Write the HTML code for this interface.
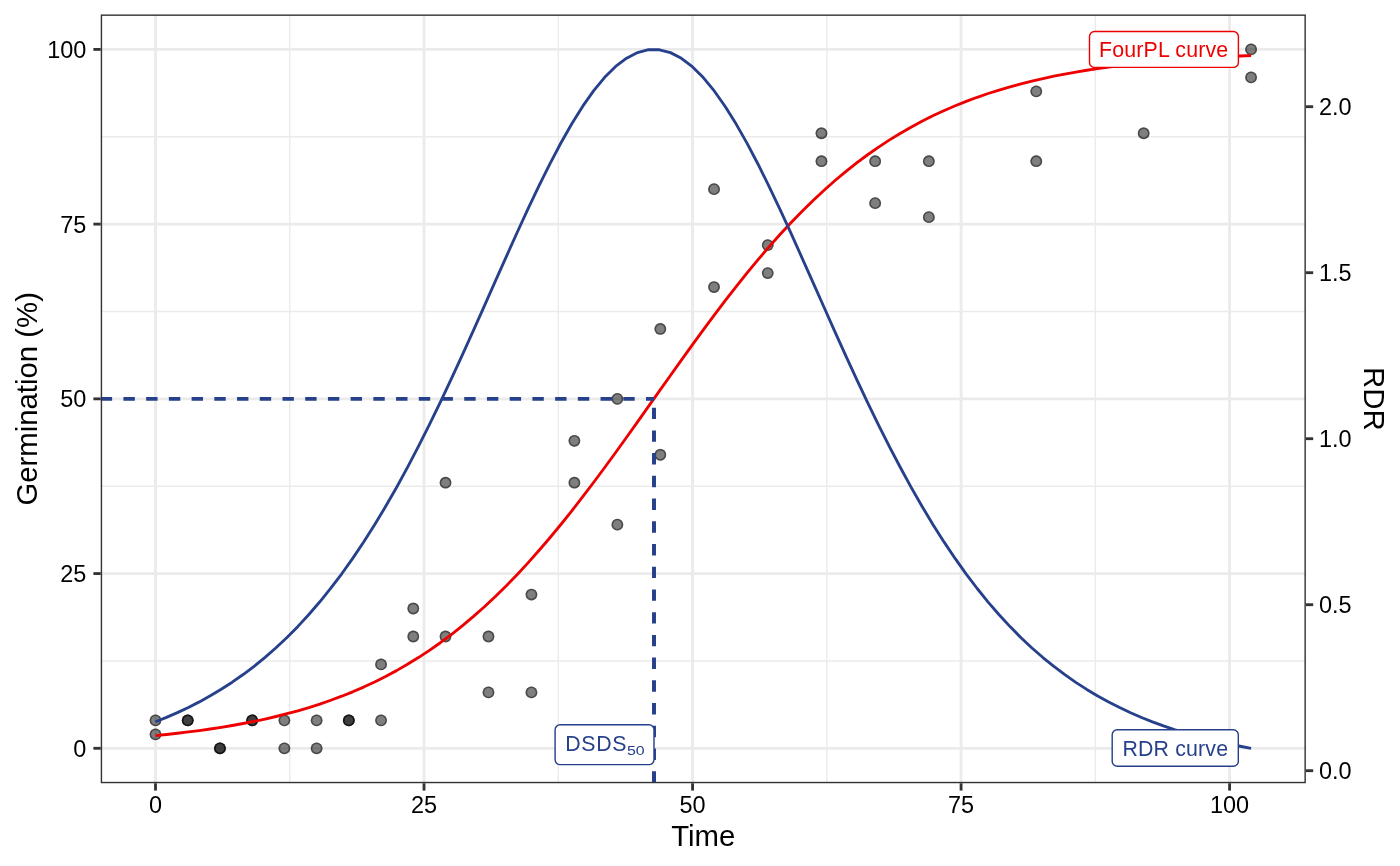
<!DOCTYPE html>
<html><head><meta charset="utf-8"><title>Germination curve</title>
<style>html,body{margin:0;padding:0;background:#fff;}body{width:1400px;height:866px;overflow:hidden;font-family:"Liberation Sans",sans-serif;}</style></head>
<body>
<svg width="1400" height="866" viewBox="0 0 1400 866" style="display:block;will-change:transform">
<rect width="1400" height="866" fill="#fff"/>
<defs><clipPath id="p"><rect x="100.72" y="14.45" width="1205.14" height="768.79"/></clipPath></defs>
<g clip-path="url(#p)">
<g stroke="#ebebeb" stroke-width="1.42">
<line x1="100.72" x2="1305.86" y1="660.94" y2="660.94"/>
<line y1="14.45" y2="783.25" x1="289.76" x2="289.76"/>
<line x1="100.72" x2="1305.86" y1="486.21" y2="486.21"/>
<line y1="14.45" y2="783.25" x1="558.29" x2="558.29"/>
<line x1="100.72" x2="1305.86" y1="311.49" y2="311.49"/>
<line y1="14.45" y2="783.25" x1="826.81" x2="826.81"/>
<line x1="100.72" x2="1305.86" y1="136.76" y2="136.76"/>
<line y1="14.45" y2="783.25" x1="1095.34" x2="1095.34"/>
</g>
<g stroke="#ebebeb" stroke-width="2.85">
<line x1="100.72" x2="1305.86" y1="748.30" y2="748.30"/>
<line y1="14.45" y2="783.25" x1="155.50" x2="155.50"/>
<line x1="100.72" x2="1305.86" y1="573.57" y2="573.57"/>
<line y1="14.45" y2="783.25" x1="424.02" x2="424.02"/>
<line x1="100.72" x2="1305.86" y1="398.85" y2="398.85"/>
<line y1="14.45" y2="783.25" x1="692.55" x2="692.55"/>
<line x1="100.72" x2="1305.86" y1="224.12" y2="224.12"/>
<line y1="14.45" y2="783.25" x1="961.07" x2="961.07"/>
<line x1="100.72" x2="1305.86" y1="49.40" y2="49.40"/>
<line y1="14.45" y2="783.25" x1="1229.60" x2="1229.60"/>
</g>
<g>
<circle cx="155.50" cy="720.34" r="5.9" fill="#000" fill-opacity="0.5"/><circle cx="155.50" cy="720.34" r="5.1" fill="none" stroke="#000" stroke-opacity="0.42" stroke-width="1.55"/>
<circle cx="155.50" cy="734.32" r="5.9" fill="#000" fill-opacity="0.5"/><circle cx="155.50" cy="734.32" r="5.1" fill="none" stroke="#000" stroke-opacity="0.42" stroke-width="1.55"/>
<circle cx="187.72" cy="720.34" r="5.9" fill="#000" fill-opacity="0.5"/><circle cx="187.72" cy="720.34" r="5.1" fill="none" stroke="#000" stroke-opacity="0.42" stroke-width="1.55"/>
<circle cx="187.72" cy="720.34" r="5.9" fill="#000" fill-opacity="0.5"/><circle cx="187.72" cy="720.34" r="5.1" fill="none" stroke="#000" stroke-opacity="0.42" stroke-width="1.55"/>
<circle cx="219.95" cy="748.30" r="5.9" fill="#000" fill-opacity="0.5"/><circle cx="219.95" cy="748.30" r="5.1" fill="none" stroke="#000" stroke-opacity="0.42" stroke-width="1.55"/>
<circle cx="219.95" cy="748.30" r="5.9" fill="#000" fill-opacity="0.5"/><circle cx="219.95" cy="748.30" r="5.1" fill="none" stroke="#000" stroke-opacity="0.42" stroke-width="1.55"/>
<circle cx="252.17" cy="720.34" r="5.9" fill="#000" fill-opacity="0.5"/><circle cx="252.17" cy="720.34" r="5.1" fill="none" stroke="#000" stroke-opacity="0.42" stroke-width="1.55"/>
<circle cx="252.17" cy="720.34" r="5.9" fill="#000" fill-opacity="0.5"/><circle cx="252.17" cy="720.34" r="5.1" fill="none" stroke="#000" stroke-opacity="0.42" stroke-width="1.55"/>
<circle cx="284.39" cy="720.34" r="5.9" fill="#000" fill-opacity="0.5"/><circle cx="284.39" cy="720.34" r="5.1" fill="none" stroke="#000" stroke-opacity="0.42" stroke-width="1.55"/>
<circle cx="284.39" cy="748.30" r="5.9" fill="#000" fill-opacity="0.5"/><circle cx="284.39" cy="748.30" r="5.1" fill="none" stroke="#000" stroke-opacity="0.42" stroke-width="1.55"/>
<circle cx="316.62" cy="720.34" r="5.9" fill="#000" fill-opacity="0.5"/><circle cx="316.62" cy="720.34" r="5.1" fill="none" stroke="#000" stroke-opacity="0.42" stroke-width="1.55"/>
<circle cx="316.62" cy="748.30" r="5.9" fill="#000" fill-opacity="0.5"/><circle cx="316.62" cy="748.30" r="5.1" fill="none" stroke="#000" stroke-opacity="0.42" stroke-width="1.55"/>
<circle cx="348.84" cy="720.34" r="5.9" fill="#000" fill-opacity="0.5"/><circle cx="348.84" cy="720.34" r="5.1" fill="none" stroke="#000" stroke-opacity="0.42" stroke-width="1.55"/>
<circle cx="348.84" cy="720.34" r="5.9" fill="#000" fill-opacity="0.5"/><circle cx="348.84" cy="720.34" r="5.1" fill="none" stroke="#000" stroke-opacity="0.42" stroke-width="1.55"/>
<circle cx="381.06" cy="664.43" r="5.9" fill="#000" fill-opacity="0.5"/><circle cx="381.06" cy="664.43" r="5.1" fill="none" stroke="#000" stroke-opacity="0.42" stroke-width="1.55"/>
<circle cx="381.06" cy="720.34" r="5.9" fill="#000" fill-opacity="0.5"/><circle cx="381.06" cy="720.34" r="5.1" fill="none" stroke="#000" stroke-opacity="0.42" stroke-width="1.55"/>
<circle cx="413.28" cy="608.52" r="5.9" fill="#000" fill-opacity="0.5"/><circle cx="413.28" cy="608.52" r="5.1" fill="none" stroke="#000" stroke-opacity="0.42" stroke-width="1.55"/>
<circle cx="413.28" cy="636.48" r="5.9" fill="#000" fill-opacity="0.5"/><circle cx="413.28" cy="636.48" r="5.1" fill="none" stroke="#000" stroke-opacity="0.42" stroke-width="1.55"/>
<circle cx="445.51" cy="482.72" r="5.9" fill="#000" fill-opacity="0.5"/><circle cx="445.51" cy="482.72" r="5.1" fill="none" stroke="#000" stroke-opacity="0.42" stroke-width="1.55"/>
<circle cx="445.51" cy="636.48" r="5.9" fill="#000" fill-opacity="0.5"/><circle cx="445.51" cy="636.48" r="5.1" fill="none" stroke="#000" stroke-opacity="0.42" stroke-width="1.55"/>
<circle cx="488.47" cy="636.48" r="5.9" fill="#000" fill-opacity="0.5"/><circle cx="488.47" cy="636.48" r="5.1" fill="none" stroke="#000" stroke-opacity="0.42" stroke-width="1.55"/>
<circle cx="488.47" cy="692.39" r="5.9" fill="#000" fill-opacity="0.5"/><circle cx="488.47" cy="692.39" r="5.1" fill="none" stroke="#000" stroke-opacity="0.42" stroke-width="1.55"/>
<circle cx="531.43" cy="594.54" r="5.9" fill="#000" fill-opacity="0.5"/><circle cx="531.43" cy="594.54" r="5.1" fill="none" stroke="#000" stroke-opacity="0.42" stroke-width="1.55"/>
<circle cx="531.43" cy="692.39" r="5.9" fill="#000" fill-opacity="0.5"/><circle cx="531.43" cy="692.39" r="5.1" fill="none" stroke="#000" stroke-opacity="0.42" stroke-width="1.55"/>
<circle cx="574.40" cy="440.78" r="5.9" fill="#000" fill-opacity="0.5"/><circle cx="574.40" cy="440.78" r="5.1" fill="none" stroke="#000" stroke-opacity="0.42" stroke-width="1.55"/>
<circle cx="574.40" cy="482.72" r="5.9" fill="#000" fill-opacity="0.5"/><circle cx="574.40" cy="482.72" r="5.1" fill="none" stroke="#000" stroke-opacity="0.42" stroke-width="1.55"/>
<circle cx="617.36" cy="398.85" r="5.9" fill="#000" fill-opacity="0.5"/><circle cx="617.36" cy="398.85" r="5.1" fill="none" stroke="#000" stroke-opacity="0.42" stroke-width="1.55"/>
<circle cx="617.36" cy="524.65" r="5.9" fill="#000" fill-opacity="0.5"/><circle cx="617.36" cy="524.65" r="5.1" fill="none" stroke="#000" stroke-opacity="0.42" stroke-width="1.55"/>
<circle cx="660.33" cy="328.96" r="5.9" fill="#000" fill-opacity="0.5"/><circle cx="660.33" cy="328.96" r="5.1" fill="none" stroke="#000" stroke-opacity="0.42" stroke-width="1.55"/>
<circle cx="660.33" cy="454.76" r="5.9" fill="#000" fill-opacity="0.5"/><circle cx="660.33" cy="454.76" r="5.1" fill="none" stroke="#000" stroke-opacity="0.42" stroke-width="1.55"/>
<circle cx="714.03" cy="189.18" r="5.9" fill="#000" fill-opacity="0.5"/><circle cx="714.03" cy="189.18" r="5.1" fill="none" stroke="#000" stroke-opacity="0.42" stroke-width="1.55"/>
<circle cx="714.03" cy="287.03" r="5.9" fill="#000" fill-opacity="0.5"/><circle cx="714.03" cy="287.03" r="5.1" fill="none" stroke="#000" stroke-opacity="0.42" stroke-width="1.55"/>
<circle cx="767.74" cy="245.09" r="5.9" fill="#000" fill-opacity="0.5"/><circle cx="767.74" cy="245.09" r="5.1" fill="none" stroke="#000" stroke-opacity="0.42" stroke-width="1.55"/>
<circle cx="767.74" cy="273.05" r="5.9" fill="#000" fill-opacity="0.5"/><circle cx="767.74" cy="273.05" r="5.1" fill="none" stroke="#000" stroke-opacity="0.42" stroke-width="1.55"/>
<circle cx="821.44" cy="133.27" r="5.9" fill="#000" fill-opacity="0.5"/><circle cx="821.44" cy="133.27" r="5.1" fill="none" stroke="#000" stroke-opacity="0.42" stroke-width="1.55"/>
<circle cx="821.44" cy="161.22" r="5.9" fill="#000" fill-opacity="0.5"/><circle cx="821.44" cy="161.22" r="5.1" fill="none" stroke="#000" stroke-opacity="0.42" stroke-width="1.55"/>
<circle cx="875.15" cy="161.22" r="5.9" fill="#000" fill-opacity="0.5"/><circle cx="875.15" cy="161.22" r="5.1" fill="none" stroke="#000" stroke-opacity="0.42" stroke-width="1.55"/>
<circle cx="875.15" cy="203.16" r="5.9" fill="#000" fill-opacity="0.5"/><circle cx="875.15" cy="203.16" r="5.1" fill="none" stroke="#000" stroke-opacity="0.42" stroke-width="1.55"/>
<circle cx="928.85" cy="161.22" r="5.9" fill="#000" fill-opacity="0.5"/><circle cx="928.85" cy="161.22" r="5.1" fill="none" stroke="#000" stroke-opacity="0.42" stroke-width="1.55"/>
<circle cx="928.85" cy="217.14" r="5.9" fill="#000" fill-opacity="0.5"/><circle cx="928.85" cy="217.14" r="5.1" fill="none" stroke="#000" stroke-opacity="0.42" stroke-width="1.55"/>
<circle cx="1036.26" cy="91.33" r="5.9" fill="#000" fill-opacity="0.5"/><circle cx="1036.26" cy="91.33" r="5.1" fill="none" stroke="#000" stroke-opacity="0.42" stroke-width="1.55"/>
<circle cx="1036.26" cy="161.22" r="5.9" fill="#000" fill-opacity="0.5"/><circle cx="1036.26" cy="161.22" r="5.1" fill="none" stroke="#000" stroke-opacity="0.42" stroke-width="1.55"/>
<circle cx="1143.67" cy="133.27" r="5.9" fill="#000" fill-opacity="0.5"/><circle cx="1143.67" cy="133.27" r="5.1" fill="none" stroke="#000" stroke-opacity="0.42" stroke-width="1.55"/>
<circle cx="1251.08" cy="49.40" r="5.9" fill="#000" fill-opacity="0.5"/><circle cx="1251.08" cy="49.40" r="5.1" fill="none" stroke="#000" stroke-opacity="0.42" stroke-width="1.55"/>
<circle cx="1251.08" cy="77.36" r="5.9" fill="#000" fill-opacity="0.5"/><circle cx="1251.08" cy="77.36" r="5.1" fill="none" stroke="#000" stroke-opacity="0.42" stroke-width="1.55"/>
</g>
<polyline points="155.50,735.56 166.46,734.46 177.41,733.27 188.37,731.96 199.32,730.55 210.28,729.01 221.23,727.33 232.19,725.50 243.15,723.52 254.10,721.37 265.06,719.03 276.01,716.49 286.97,713.74 297.93,710.76 308.88,707.54 319.84,704.05 330.79,700.27 341.75,696.20 352.70,691.81 363.66,687.07 374.62,681.98 385.57,676.50 396.53,670.62 407.48,664.32 418.44,657.58 429.40,650.39 440.35,642.71 451.31,634.54 462.26,625.87 473.22,616.68 484.17,606.97 495.13,596.73 506.09,585.96 517.04,574.66 528.00,562.85 538.95,550.53 549.91,537.73 560.87,524.47 571.82,510.77 582.78,496.68 593.73,482.24 604.69,467.48 615.64,452.47 626.60,437.24 637.56,421.87 648.51,406.41 659.47,390.92 670.42,375.46 681.38,360.09 692.34,344.87 703.29,329.85 714.25,315.10 725.20,300.67 736.16,286.58 747.11,272.90 758.07,259.64 769.03,246.85 779.98,234.54 790.94,222.74 801.89,211.45 812.85,200.69 823.81,190.46 834.76,180.76 845.72,171.58 856.67,162.92 867.63,154.76 878.58,147.10 889.54,139.91 900.50,133.18 911.45,126.89 922.41,121.02 933.36,115.55 944.32,110.46 955.27,105.73 966.23,101.35 977.19,97.28 988.14,93.51 999.10,90.03 1010.05,86.81 1021.01,83.83 1031.97,81.09 1042.92,78.55 1053.88,76.22 1064.83,74.07 1075.79,72.09 1086.74,70.27 1097.70,68.59 1108.66,67.05 1119.61,65.64 1130.57,64.34 1141.52,63.14 1152.48,62.05 1163.44,61.04 1174.39,60.12 1185.35,59.27 1196.30,58.50 1207.26,57.79 1218.21,57.13 1229.17,56.53 1240.13,55.99 1251.08,55.48" fill="none" stroke="#ee0000" stroke-width="2.85" stroke-linejoin="round"/>
<polyline points="155.50,721.76 166.46,717.38 177.41,712.63 188.37,707.48 199.32,701.89 210.28,695.84 221.23,689.28 232.19,682.20 243.15,674.54 254.10,666.28 265.06,657.37 276.01,647.77 286.97,637.46 297.93,626.38 308.88,614.51 319.84,601.80 330.79,588.23 341.75,573.77 352.70,558.39 363.66,542.07 374.62,524.81 385.57,506.60 396.53,487.45 407.48,467.38 418.44,446.43 429.40,424.65 440.35,402.10 451.31,378.88 462.26,355.08 473.22,330.84 484.17,306.31 495.13,281.65 506.09,257.06 517.04,232.75 528.00,208.94 538.95,185.88 549.91,163.82 560.87,143.02 571.82,123.72 582.78,106.19 593.73,90.66 604.69,77.36 615.64,66.47 626.60,58.16 637.56,52.55 648.51,49.74 659.47,49.77 670.42,52.64 681.38,58.29 692.34,66.66 703.29,77.60 714.25,90.95 725.20,106.52 736.16,124.09 747.11,143.41 758.07,164.24 769.03,186.33 779.98,209.40 790.94,233.22 801.89,257.54 812.85,282.14 823.81,306.79 834.76,331.32 845.72,355.55 856.67,379.34 867.63,402.55 878.58,425.08 889.54,446.85 900.50,467.78 911.45,487.83 922.41,506.96 933.36,525.16 944.32,542.40 955.27,558.70 966.23,574.06 977.19,588.51 988.14,602.06 999.10,614.75 1010.05,626.61 1021.01,637.67 1031.97,647.97 1042.92,657.55 1053.88,666.44 1064.83,674.70 1075.79,682.34 1086.74,689.42 1097.70,695.96 1108.66,702.00 1119.61,707.58 1130.57,712.73 1141.52,717.47 1152.48,721.84 1163.44,725.86 1174.39,729.56 1185.35,732.97 1196.30,736.10 1207.26,738.98 1218.21,741.62 1229.17,744.04 1240.13,746.27 1251.08,748.32" fill="none" stroke="#27408b" stroke-width="2.85" stroke-linejoin="round"/>
<g stroke="#27408b" stroke-width="3.95" stroke-dasharray="11.4 11.32" fill="none">
<line x1="100.72" y1="398.85" x2="654.0" y2="398.85"/>
<line x1="654.0" y1="782.6" x2="654.0" y2="398.85"/>
</g>
<rect x="1089.5" y="31.5" width="148.90" height="35.90" rx="5" ry="5" fill="#fff" stroke="#ee0000" stroke-width="1.42"/>
<text x="1099.00" y="56.60" font-family="'Liberation Sans', sans-serif" font-size="21.33" fill="#ee0000" textLength="129.2" lengthAdjust="spacing">FourPL curve</text>
<rect x="1112.2" y="729.8" width="126.10" height="36.50" rx="5" ry="5" fill="#fff" stroke="#27408b" stroke-width="1.42"/>
<text x="1122.40" y="755.80" font-family="'Liberation Sans', sans-serif" font-size="21.33" fill="#27408b" textLength="105.6" lengthAdjust="spacing">RDR curve</text>
<rect x="555.1" y="724.7" width="98.90" height="39.90" rx="5" ry="5" fill="#fff" stroke="#27408b" stroke-width="1.42"/>
<text x="565.20" y="750.60" font-family="'Liberation Sans', sans-serif" font-size="21.33" fill="#27408b" textLength="61.4" lengthAdjust="spacing">DSDS</text>
<text x="626.90" y="754.50" font-family="'Liberation Sans', sans-serif" font-size="13.4" fill="#27408b" textLength="17.7" lengthAdjust="spacingAndGlyphs">50</text>
</g>
<rect x="101.43" y="15.16" width="1203.72" height="767.37" fill="none" stroke="#333" stroke-width="1.42"/>
<g stroke="#333" stroke-width="2.85">
<line x1="93.39" x2="100.72" y1="748.30" y2="748.30"/>
<line y1="783.25" y2="790.58" x1="155.50" x2="155.50"/>
<line x1="93.39" x2="100.72" y1="573.57" y2="573.57"/>
<line y1="783.25" y2="790.58" x1="424.02" x2="424.02"/>
<line x1="93.39" x2="100.72" y1="398.85" y2="398.85"/>
<line y1="783.25" y2="790.58" x1="692.55" x2="692.55"/>
<line x1="93.39" x2="100.72" y1="224.12" y2="224.12"/>
<line y1="783.25" y2="790.58" x1="961.07" x2="961.07"/>
<line x1="93.39" x2="100.72" y1="49.40" y2="49.40"/>
<line y1="783.25" y2="790.58" x1="1229.60" x2="1229.60"/>
<line x1="1305.86" x2="1313.19" y1="770.70" y2="770.70"/>
<line x1="1305.86" x2="1313.19" y1="604.70" y2="604.70"/>
<line x1="1305.86" x2="1313.19" y1="438.70" y2="438.70"/>
<line x1="1305.86" x2="1313.19" y1="272.70" y2="272.70"/>
<line x1="1305.86" x2="1313.19" y1="106.70" y2="106.70"/>
</g>
<g font-family="'Liberation Sans', sans-serif" font-size="23.47" fill="#000">
<text x="86.32" y="756.70" text-anchor="end">0</text>
<text x="155.50" y="812.80" text-anchor="middle">0</text>
<text x="86.32" y="581.97" text-anchor="end">25</text>
<text x="424.02" y="812.80" text-anchor="middle">25</text>
<text x="86.32" y="407.25" text-anchor="end">50</text>
<text x="692.55" y="812.80" text-anchor="middle">50</text>
<text x="86.32" y="232.53" text-anchor="end">75</text>
<text x="961.07" y="812.80" text-anchor="middle">75</text>
<text x="86.32" y="57.80" text-anchor="end">100</text>
<text x="1229.60" y="812.80" text-anchor="middle">100</text>
<text x="1319.06" y="779.10" >0.0</text>
<text x="1319.06" y="613.10" >0.5</text>
<text x="1319.06" y="447.10" >1.0</text>
<text x="1319.06" y="281.10" >1.5</text>
<text x="1319.06" y="115.10" >2.0</text>
</g>
<g font-family="'Liberation Sans', sans-serif" font-size="29.33" fill="#000" text-anchor="middle">
<text x="703.29" y="845.90" >Time</text>
<text transform="translate(36.9 398.85) rotate(-90)">Germination (%)</text>
<text transform="translate(1363.6 398.85) rotate(90)">RDR</text>
</g>
</svg>
</body></html>
